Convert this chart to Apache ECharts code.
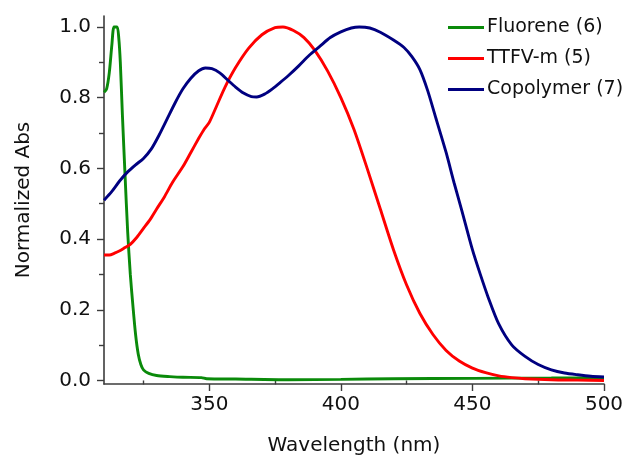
<!DOCTYPE html>
<html>
<head>
<meta charset="utf-8">
<script src="https://cdn.jsdelivr.net/npm/echarts@6/dist/echarts.min.js"></script>
<style>
  html, body { margin: 0; padding: 0; background: #fff; }
  #chart { width: 632px; height: 462px; }
</style>
</head>
<body>
<div id="chart"></div>
<script>
// wavelengths (nm) and normalized absorbance
const fluoreneX = [310, 311, 312, 313, 313.8, 315, 315.6, 316.2, 317, 318, 319, 320, 321, 322, 323, 324, 325, 327, 330, 335, 340, 347, 349, 360, 380, 400, 420, 450, 480, 500];
const fluoreneY = [0.815, 0.825, 0.87, 0.95, 1.0, 1.0, 0.97, 0.9, 0.75, 0.58, 0.42, 0.3, 0.21, 0.13, 0.075, 0.045, 0.03, 0.02, 0.014, 0.011, 0.009, 0.008, 0.005, 0.004, 0.002, 0.003, 0.005, 0.006, 0.007, 0.008];

const ttfvX = [310, 312, 314, 316, 318, 320, 322.5, 325, 327.5, 330, 333, 336, 340, 343, 346, 348, 350, 353, 356, 360, 365, 370, 375, 378, 382, 386, 390, 395, 400, 405, 410, 415, 420, 425, 430, 435, 440, 445, 450, 455, 460, 465, 470, 480, 490, 500];
const ttfvY = [0.355, 0.355, 0.36, 0.367, 0.376, 0.385, 0.405, 0.43, 0.455, 0.485, 0.52, 0.56, 0.605, 0.645, 0.685, 0.71, 0.73, 0.78, 0.83, 0.885, 0.94, 0.978, 0.998, 1.0, 0.99, 0.97, 0.935, 0.875, 0.8, 0.71, 0.6, 0.485, 0.37, 0.27, 0.19, 0.13, 0.085, 0.055, 0.035, 0.022, 0.013, 0.008, 0.005, 0.002, 0.001, 0.0];

const copolyX = [310, 313, 316, 319, 322, 325, 328, 331, 334, 337, 340, 343, 346, 348.5, 351, 354, 357, 360, 363, 366, 368, 371, 374, 377, 380, 384, 388, 392, 396, 400, 404, 407, 411, 415, 420, 424, 427, 430, 433, 436, 440, 443, 446, 450, 453, 456, 460, 465, 470, 475, 480, 485, 490, 495, 500];
const copolyY = [0.51, 0.535, 0.565, 0.59, 0.61, 0.628, 0.655, 0.695, 0.74, 0.785, 0.825, 0.855, 0.876, 0.884, 0.882, 0.87, 0.85, 0.83, 0.813, 0.803, 0.802, 0.81, 0.825, 0.843, 0.862, 0.89, 0.92, 0.945, 0.97, 0.986, 0.997, 1.0, 0.997, 0.985, 0.963, 0.942, 0.916, 0.88, 0.82, 0.745, 0.645, 0.56, 0.48, 0.37, 0.3, 0.235, 0.16, 0.1, 0.068, 0.045, 0.03, 0.021, 0.016, 0.012, 0.01];

const seriesNames = ["Fluorene (6)", "TTFV-m (5)", "Copolymer (7)"];
const seriesColors = ["#0a8a0a", "#ff0000", "#000080"];

const xMajor = [350, 400, 450, 500];
const xMinor = [325, 375, 425, 475];
const yMajor = [0, 0.2, 0.4, 0.6, 0.8, 1.0];
const yMinor = [0.1, 0.3, 0.5, 0.7, 0.9];

const pairs = (xs, ys) => xs.map((x, i) => [x, ys[i]]);
const font = "DejaVu Sans";
const axisColor = "#3c3c3c";

const chart = echarts.init(document.getElementById("chart"));

const lineSeries = [
  pairs(fluoreneX, fluoreneY),
  pairs(ttfvX, ttfvY),
  pairs(copolyX, copolyY),
].map((data, i) => ({
  name: seriesNames[i],
  type: "line",
  data,
  xAxisIndex: 0,
  yAxisIndex: 0,
  symbol: "none",
  showSymbol: false,
  smooth: 0.25,
  lineStyle: { color: seriesColors[i], width: 2.9 },
  itemStyle: { color: seriesColors[i] },
}));

chart.setOption({
  animation: false,
  textStyle: { fontFamily: font },
  grid: { left: 104, right: 28, top: 16, bottom: 78 },
  legend: {
    orient: "vertical",
    left: 443,
    top: 13,
    icon: "rect",
    itemWidth: 36,
    itemHeight: 3,
    itemGap: 12,
    textStyle: { fontFamily: font, fontSize: 19, color: "#111", padding: [0, 0, 0, -2] },
    data: seriesNames,
  },
  xAxis: [
    {
      type: "value",
      min: 310,
      max: 500,
      position: "bottom",
      name: "Wavelength (nm)",
      nameLocation: "middle",
      nameGap: 52,
      nameTextStyle: { fontFamily: font, fontSize: 20, color: "#111" },
      axisLine: { show: true, onZero: false, lineStyle: { color: axisColor, width: 1.6 } },
      axisTick: { show: true, customValues: xMajor, length: 7, lineStyle: { color: axisColor, width: 1.4 } },
      axisLabel: { customValues: xMajor, fontSize: 20, color: "#111", margin: 11 },
      splitLine: { show: false },
    },
    {
      type: "value",
      min: 310,
      max: 500,
      position: "bottom",
      axisLine: { show: false },
      axisTick: { show: true, customValues: xMinor, length: 4, lineStyle: { color: axisColor, width: 1.4 } },
      axisLabel: { show: false },
      splitLine: { show: false },
    },
  ],
  yAxis: [
    {
      type: "value",
      min: -0.01,
      max: 1.031,
      position: "left",
      name: "Normalized Abs",
      nameLocation: "middle",
      nameGap: 70,
      nameTextStyle: { fontFamily: font, fontSize: 20, color: "#111" },
      axisLine: { show: true, onZero: false, lineStyle: { color: axisColor, width: 1.6 } },
      axisTick: { show: true, customValues: yMajor, length: 7, lineStyle: { color: axisColor, width: 1.4 } },
      axisLabel: {
        customValues: yMajor,
        fontSize: 20,
        color: "#111",
        margin: 13,
        formatter: (v) => v.toFixed(1),
      },
      splitLine: { show: false },
    },
    {
      type: "value",
      min: -0.01,
      max: 1.031,
      position: "left",
      axisLine: { show: false },
      axisTick: { show: true, customValues: yMinor, length: 5, lineStyle: { color: axisColor, width: 1.4 } },
      axisLabel: { show: false },
      splitLine: { show: false },
    },
  ],
  series: lineSeries,
});

window.addEventListener("resize", () => chart.resize());
</script>
</body>
</html>
